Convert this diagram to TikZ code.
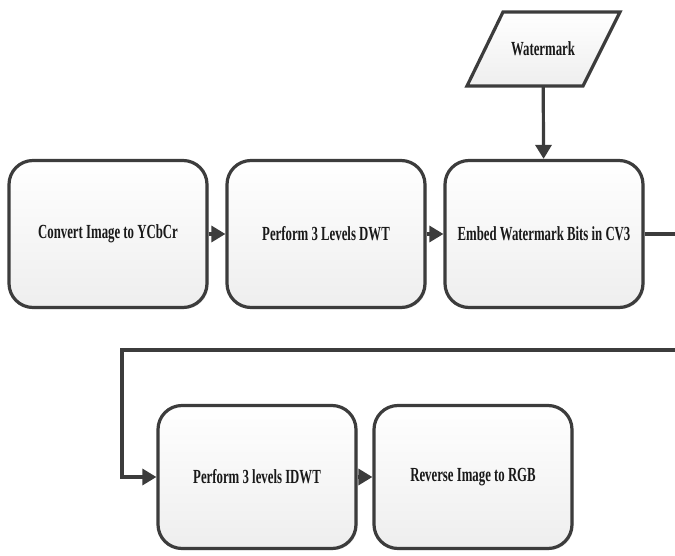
\documentclass[tikz,border=0pt]{standalone}
\usepackage{fontspec}
\setmainfont{Liberation Serif}[FakeStretch=0.64]
\usetikzlibrary{arrows.meta,shadows}
\definecolor{edge}{HTML}{3C3C3C}
\definecolor{fillbot}{HTML}{EEEEEE}
\tikzset{
  procbox/.style={draw=edge, line width=3.2pt, rounded corners=24pt,
    top color=white, bottom color=fillbot, minimum width=198pt, minimum height=147pt,
    font=\bfseries\fontsize{20}{22}\selectfont, text=black!90,
    drop shadow={shadow xshift=1.5pt, shadow yshift=-1.5pt, opacity=0.25}},
  iolabel/.style={minimum width=116pt, minimum height=74pt, inner sep=0pt,
    font=\bfseries\fontsize{20}{22}\selectfont, text=black!90},
  ioshape/.style={draw=edge, line width=3.2pt, line join=miter, top color=white, bottom color=fillbot},
  conn/.style={draw=edge, line width=3.2pt},
  arr/.style={conn, -{Triangle[length=14pt,width=16pt]}}
}
\begin{document}
\begin{tikzpicture}[x=1pt,y=-1pt]
\useasboundingbox (0,0) rectangle (675,556);
\node[procbox] (b1) at (108,234) {Convert Image to YCbCr};
\node[procbox] (b2) at (326,234) {Perform 3 Levels DWT};
\node[procbox] (b3) at (544,234) {Embed Watermark Bits in CV3};
\path[ioshape] (503,12) -- (620,12) -- (583,86) -- (467,86) -- cycle;
\node[iolabel] (wm) at (543,49) {Watermark};
\node[procbox, minimum height=143pt] (b4) at (257,477) {Perform 3 levels IDWT};
\node[procbox, minimum height=143pt] (b5) at (473,477) {Reverse Image to RGB};
\coordinate (e1) at (676,234);
\coordinate (e2) at (676,350);
\coordinate (c1) at (122,350);
\draw[arr] (b1) -- (b2);
\draw[arr] (b2) -- (b3);
\draw[arr] (wm) -- (b3);
\draw[conn] (b3.east) -- (e1);
\draw[arr] (e2) -- (c1) |- (b4.west);
\draw[arr] (b4) -- (b5);
\end{tikzpicture}
\end{document}
